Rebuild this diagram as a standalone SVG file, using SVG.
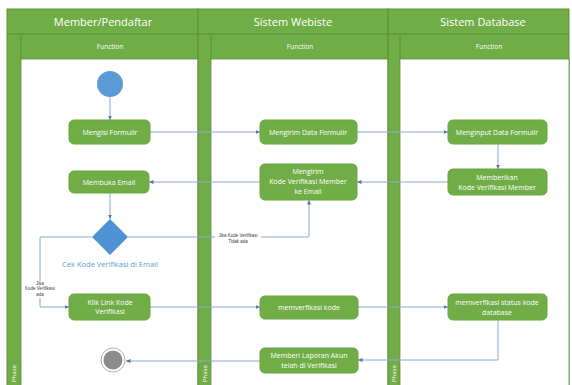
<svg xmlns="http://www.w3.org/2000/svg" width="572" height="385" viewBox="0 0 572 385">
<style>
.lane{fill:#71ad47;stroke:#5b8f37;stroke-width:1}
.body{fill:#ffffff;stroke:#5b8f37;stroke-width:0.8}
.hd{font-family:"Open Sans","Liberation Sans",sans-serif;font-size:11px;fill:#ffffff;text-anchor:middle}
.fn{font-family:"Open Sans","Liberation Sans",sans-serif;font-size:6.5px;fill:#ffffff;text-anchor:middle}
.ph{font-family:"Open Sans","Liberation Sans",sans-serif;font-size:6px;fill:#ffffff}
.box{fill:#71ad47;stroke:#6aa443;stroke-width:1}
.bt{font-family:"Open Sans","Liberation Sans",sans-serif;font-size:7px;fill:#ffffff;text-anchor:middle}
.con{fill:none;stroke:#8eaad2;stroke-width:1}
.lbl{font-family:"Liberation Sans",sans-serif;font-size:4.5px;fill:#404040;text-anchor:middle}
</style>
<defs>
<marker id="ah" markerWidth="5" markerHeight="5" refX="4.5" refY="2.5" orient="auto" markerUnits="userSpaceOnUse">
<path d="M0,0.5 L4.5,2.5 L0,4.5 Z" fill="#4f72a8"/>
</marker>
</defs>
<rect width="572" height="385" fill="#ffffff"/>
<g id="lane-member">
<rect class="lane" x="7" y="9" width="191" height="390"/>
<line x1="7" y1="34" x2="198" y2="34" stroke="#5b8f37"/>
<rect class="body" x="21" y="59" width="177" height="340"/>
<line x1="21" y1="34" x2="21" y2="59" stroke="#5b8f37"/>
<text class="hd" x="103" y="26">Member/Pendaftar</text>
<text class="fn" x="110" y="49">Function</text>
<text class="ph" transform="translate(16,382) rotate(-90)">Phase</text>
</g>
<g id="lane-website">
<rect class="lane" x="198" y="9" width="190" height="390"/>
<line x1="198" y1="34" x2="388" y2="34" stroke="#5b8f37"/>
<rect class="body" x="211" y="59" width="177" height="340"/>
<line x1="211" y1="34" x2="211" y2="59" stroke="#5b8f37"/>
<text class="hd" x="293" y="26">Sistem Webiste</text>
<text class="fn" x="300" y="49">Function</text>
<text class="ph" transform="translate(207,382) rotate(-90)">Phase</text>
</g>
<g id="lane-database">
<rect class="lane" x="388" y="9" width="181" height="390"/>
<line x1="388" y1="34" x2="569" y2="34" stroke="#5b8f37"/>
<rect class="body" x="400" y="59" width="169" height="340"/>
<line x1="400" y1="34" x2="400" y2="59" stroke="#5b8f37"/>
<text class="hd" x="483" y="26">Sistem Database</text>
<text class="fn" x="489" y="49">Function</text>
<text class="ph" transform="translate(396,382) rotate(-90)">Phase</text>
</g>
<g id="connectors">
<line class="con" x1="110" y1="97" x2="110" y2="120" marker-end="url(#ah)"/>
<line class="con" x1="150" y1="132" x2="260" y2="132" marker-end="url(#ah)"/>
<line class="con" x1="357" y1="132" x2="448" y2="132" marker-end="url(#ah)"/>
<line class="con" x1="498" y1="144" x2="498" y2="169" marker-end="url(#ah)"/>
<line class="con" x1="448" y1="182" x2="357" y2="182" marker-end="url(#ah)"/>
<line class="con" x1="260" y1="182" x2="149" y2="182" marker-end="url(#ah)"/>
<line class="con" x1="110" y1="193" x2="110" y2="219" marker-end="url(#ah)"/>
<polyline class="con" points="92,237 40,237 40,307 69,307" marker-end="url(#ah)"/>
<polyline class="con" points="128,237 309,237 309,200" marker-end="url(#ah)"/>
<line class="con" x1="150" y1="307" x2="260" y2="307" marker-end="url(#ah)"/>
<line class="con" x1="358" y1="307" x2="448" y2="307" marker-end="url(#ah)"/>
<polyline class="con" points="498,320 498,360 358,360" marker-end="url(#ah)"/>
<line class="con" x1="260" y1="361" x2="126" y2="361" marker-end="url(#ah)"/>
<rect x="30" y="281" width="20" height="17" fill="#ffffff"/>
<text class="lbl" x="40" y="285">Jika</text>
<text class="lbl" x="40" y="290">Kode Verifikasi</text>
<text class="lbl" x="40" y="296">ada</text>
<rect x="215" y="232" width="46" height="12" fill="#ffffff"/>
<text class="lbl" x="238" y="237">Jika Kode Verifikasi</text>
<text class="lbl" x="238" y="243">Tidak ada</text>
</g>
<g id="start"><circle cx="110" cy="84" r="13" fill="#5b9bd5"/></g>
<g id="mengisi"><rect class="box" x="69" y="120" width="81" height="24" rx="5"/><text class="bt" x="110" y="135">Mengisi Formulir</text></g>
<g id="membuka"><rect class="box" x="69" y="171" width="80" height="22" rx="5"/><text class="bt" x="109" y="185">Membuka Email</text></g>
<g id="decision"><polygon points="110,219 128,237 110,255 92,237" fill="#4f93d6"/><text x="110" y="267" font-family="'Open Sans','Liberation Sans',sans-serif" font-size="7.5" fill="#5b9bd5" text-anchor="middle">Cek Kode Verifikasi di Email</text></g>
<g id="klik"><rect class="box" x="69" y="294" width="81" height="26" rx="5"/><text class="bt" x="110" y="305">Klik Link Kode</text><text class="bt" x="110" y="314">Verifikasi</text></g>
<g id="end"><circle cx="113" cy="360" r="12" fill="#ffffff" stroke="#b0b0b0" stroke-width="1"/><circle cx="113" cy="360" r="9.5" fill="#8c8c8c"/></g>
<g id="kirim-data"><rect class="box" x="260" y="120" width="97" height="24" rx="5"/><text class="bt" x="308" y="135">Mengirim Data Formulir</text></g>
<g id="kirim-kode"><rect class="box" x="260" y="164" width="97" height="36" rx="5"/><text class="bt" x="308" y="174">Mengirim</text><text class="bt" x="308" y="184">Kode Verifikasi Member</text><text class="bt" x="308" y="194">ke Email</text></g>
<g id="verif-kode"><rect class="box" x="260" y="296" width="98" height="23" rx="5"/><text class="bt" x="309" y="310">memverfikasi kode</text></g>
<g id="laporan"><rect class="box" x="260" y="348" width="98" height="25" rx="5"/><text class="bt" x="309" y="358">Memberi Laporan Akun</text><text class="bt" x="309" y="368">telah di Verifikasi</text></g>
<g id="input"><rect class="box" x="448" y="120" width="99" height="24" rx="5"/><text class="bt" x="497" y="135">Menginput Data Formulir</text></g>
<g id="berikan"><rect class="box" x="448" y="169" width="99" height="26" rx="5"/><text class="bt" x="497" y="180">Memberikan</text><text class="bt" x="497" y="190">Kode Verifikasi Member</text></g>
<g id="verif-status"><rect class="box" x="448" y="294" width="99" height="26" rx="5"/><text class="bt" x="497" y="305">memverfikasi status kode</text><text class="bt" x="497" y="315">database</text></g>
</svg>
